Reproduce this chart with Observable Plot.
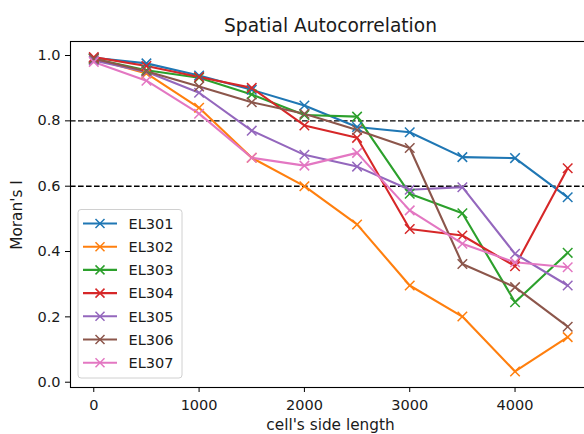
<!DOCTYPE html>
<html>
<head>
<meta charset="utf-8">
<script src="https://cdn.jsdelivr.net/npm/d3@7"></script>
<script src="https://cdn.jsdelivr.net/npm/@observablehq/plot@0.6"></script>
<style>
html, body { margin: 0; padding: 0; overflow: hidden; background: #fff; }
#chart svg { display: block; max-width: none !important; }
</style>
</head>
<body>
<div id="chart"></div>
<script>
const sideLengths = [0, 500, 1000, 1500, 2000, 2500, 3000, 3500, 4000, 4500];
const seriesNames = ["EL301", "EL302", "EL303", "EL304", "EL305", "EL306", "EL307"];
const EL301 = [0.993, 0.976, 0.939, 0.895, 0.847, 0.781, 0.765, 0.689, 0.686, 0.566];
const EL302 = [0.990, 0.945, 0.840, 0.687, 0.600, 0.483, 0.296, 0.201, 0.033, 0.138];
const EL303 = [0.990, 0.955, 0.932, 0.881, 0.818, 0.813, 0.577, 0.517, 0.245, 0.396];
const EL304 = [0.995, 0.968, 0.934, 0.901, 0.786, 0.748, 0.469, 0.449, 0.355, 0.655];
const EL305 = [0.985, 0.950, 0.886, 0.770, 0.696, 0.660, 0.589, 0.597, 0.393, 0.296];
const EL306 = [0.990, 0.952, 0.905, 0.857, 0.822, 0.772, 0.717, 0.362, 0.291, 0.170];
const EL307 = [0.980, 0.923, 0.822, 0.687, 0.663, 0.702, 0.526, 0.424, 0.367, 0.352];
const thresholds = [0.8, 0.6];
const xTicks = [0, 1000, 2000, 3000, 4000];
const yTicks = [0.0, 0.2, 0.4, 0.6, 0.8, 1.0];
const colors = ["#1f77b4", "#ff7f0e", "#2ca02c", "#d62728", "#9467bd", "#8c564b", "#e377c2"];

const seriesValues = [EL301, EL302, EL303, EL304, EL305, EL306, EL307];
const data = [];
seriesNames.forEach((name, i) => {
  sideLengths.forEach((x, j) => data.push({series: name, x, y: seriesValues[i][j]}));
});

const FONT = "DejaVu Sans, Liberation Sans, sans-serif";
const W = 591, H = 434;

const plot = Plot.plot({
  width: W,
  height: H,
  marginLeft: 70,
  marginRight: 0,
  marginTop: 41,
  marginBottom: 47,
  style: {fontFamily: FONT, fontSize: "14.5px", color: "#000", background: "#fff", maxWidth: "none"},
  x: {domain: [-221, 4726], ticks: xTicks, tickFormat: d => String(d), label: null, tickSize: 5, tickPadding: 7},
  y: {domain: [-0.0162, 1.0429], ticks: yTicks, tickFormat: d3.format(".1f"), label: null, tickSize: 5, tickPadding: 5},
  color: {domain: seriesNames, range: colors},
  marks: [
    Plot.ruleY(thresholds, {stroke: "#000", strokeWidth: 1.4, strokeDasharray: "5.6,2.4"}),
    Plot.line(data, {x: "x", y: "y", z: "series", stroke: "series", strokeWidth: 2.1}),
    Plot.dot(data, {x: "x", y: "y", stroke: "series", symbol: "times", r: 4.4, strokeWidth: 1.5}),
    Plot.frame({stroke: "#000", strokeWidth: 1.1})
  ]
});
document.getElementById("chart").appendChild(plot);

const svg = d3.select(plot);
svg.selectAll("g[aria-label='x-axis tick label'] text, g[aria-label='y-axis tick label'] text").attr("fill", "#1a1a1a");

// Title
svg.append("text")
  .attr("x", 330.5).attr("y", 31.5)
  .attr("text-anchor", "middle")
  .attr("font-family", FONT).attr("font-size", "18.6px").attr("fill", "#1a1a1a")
  .text("Spatial Autocorrelation");

// X label
svg.append("text")
  .attr("x", 330.5).attr("y", 429.5)
  .attr("text-anchor", "middle")
  .attr("font-family", FONT).attr("font-size", "15.3px").attr("fill", "#1a1a1a")
  .text("cell's side length");

// Y label
svg.append("text")
  .attr("transform", "translate(21.7,215) rotate(-90)")
  .attr("text-anchor", "middle")
  .attr("font-family", FONT).attr("font-size", "15.3px").attr("fill", "#1a1a1a")
  .text("Moran's I");

// Legend
const lg = svg.append("g");
lg.append("rect")
  .attr("x", 78).attr("y", 209.5).attr("width", 104).attr("height", 168.5)
  .attr("rx", 3).attr("fill", "#fff").attr("fill-opacity", 0.8)
  .attr("stroke", "#d0d0d0").attr("stroke-width", 1);
seriesNames.forEach((name, i) => {
  const yy = 223.5 + i * 23.2;
  const g = lg.append("g");
  g.append("line").attr("x1", 83).attr("x2", 117).attr("y1", yy).attr("y2", yy)
    .attr("stroke", colors[i]).attr("stroke-width", 2.1);
  g.append("path").attr("d", `M${100-4.5},${yy-4.5}L${100+4.5},${yy+4.5}M${100-4.5},${yy+4.5}L${100+4.5},${yy-4.5}`)
    .attr("stroke", colors[i]).attr("stroke-width", 1.5);
  g.append("text").attr("x", 128.5).attr("y", yy + 5.3)
    .attr("text-anchor", "start")
    .attr("font-family", FONT).attr("font-size", "14.5px").attr("fill", "#1a1a1a")
    .text(name);
});
</script>
</body>
</html>
